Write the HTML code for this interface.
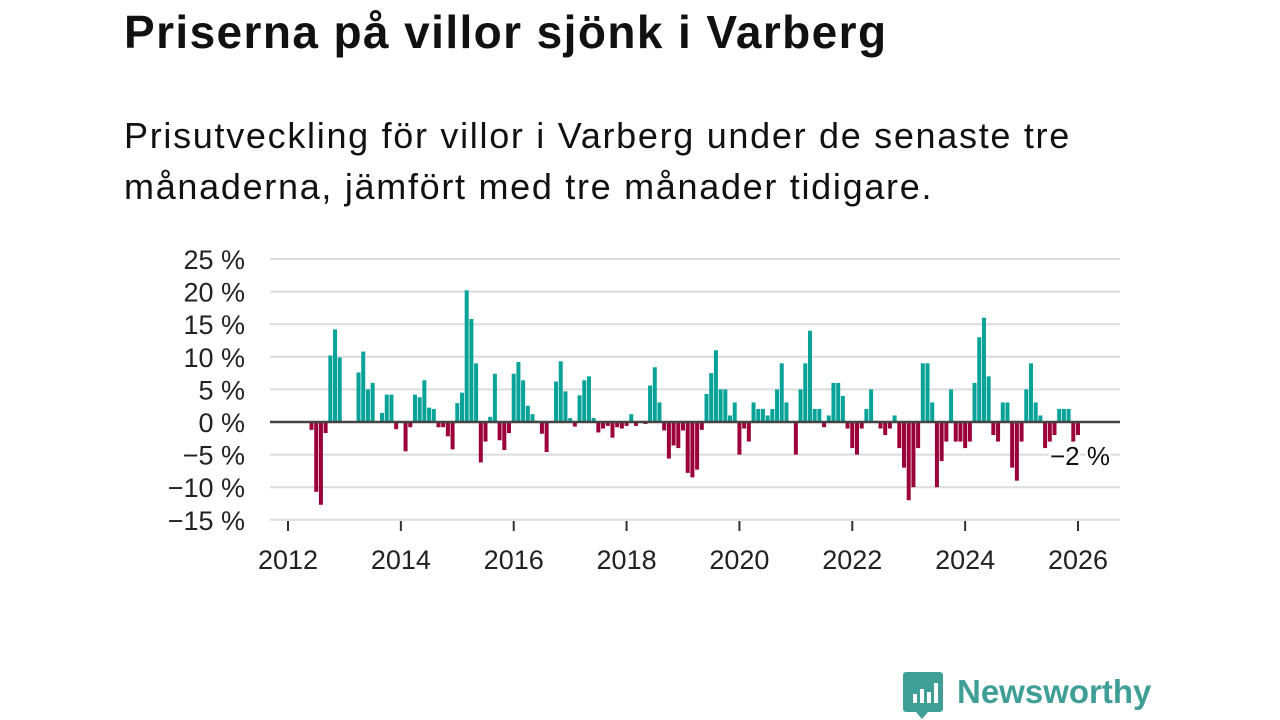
<!DOCTYPE html>
<html><head><meta charset="utf-8"><style>
body{margin:0;width:1280px;height:720px;background:#fff;overflow:hidden;font-family:"Liberation Sans","DejaVu Sans",sans-serif;color:#111}
#title{position:absolute;left:124px;top:5px;font-size:46px;font-weight:bold;margin:0;letter-spacing:1.4px;white-space:nowrap}
#sub{position:absolute;left:124px;top:110px;font-size:36px;line-height:51px;margin:0;width:1100px;letter-spacing:1.7px;white-space:nowrap}
svg{position:absolute;left:0;top:0}
</style></head><body>
<h1 id="title">Priserna på villor sjönk i Varberg</h1>
<p id="sub">Prisutveckling för villor i Varberg under de senaste tre<br>månaderna, jämfört med tre månader tidigare.</p>
<svg id="chart" width="1280" height="720"></svg>
<script>
const startYear = 2012;
const startMonth = 5; // months offset from Jan 2012 (June 2012)
const values = [-1.2,-10.7,-12.7,-1.7,10.2,14.2,9.9,0,0,0,7.6,10.8,5,6,0,1.4,4.2,4.2,-1.1,0,
-4.5,-0.8,4.2,3.8,6.4,2.2,2,-0.8,-0.8,-2.2,-4.2,2.9,4.5,20.2,15.8,9,-6.2,-3,0.8,7.4,
-2.8,-4.3,-1.7,7.4,9.2,6.4,2.5,1.2,0.2,-1.8,-4.6,0,6.2,9.3,4.7,0.6,-0.7,4.1,6.4,7,
0.6,-1.6,-1,-0.6,-2.4,-0.8,-1,-0.6,1.2,-0.6,0,-0.3,5.6,8.4,3,-1.3,-5.6,-3.6,-4,-1.3,
-7.8,-8.5,-7.3,-1.2,4.3,7.5,11,5,5,1,3,-5,-1,-3,3,2,2,1,2,5,
9,3,0,-5,5,9,14,2,2,-0.8,1,6,6,4,-1,-4,-5,-1,2,5,
0,-1,-2,-1,1,-4,-7,-12,-10,-4,9,9,3,-10,-6,-3,5,-3,-3,-4,
-3,6,13,16,7,-2,-3,3,3,-7,-9,-3,5,9,3,1,-4,-3,-2,2,
2,2,-3,-2];
const yTicks = [25,20,15,10,5,0,-5,-10,-15];
const xTicks = [2012,2014,2016,2018,2020,2022,2024,2026];
const lastLabel = "−2 %";

const NS="http://www.w3.org/2000/svg";
const svg=document.getElementById('chart');
const xs = y => 288 + (y-2012)*(1078-288)/14;
const ys = v => 422 - v*(163/25);
function mk(t,a){const e=document.createElementNS(NS,t);for(const k in a)e.setAttribute(k,a[k]);svg.appendChild(e);return e;}
yTicks.forEach(t=>{
  const g=mk('line',{x1:270,x2:1120,y1:ys(t),y2:ys(t),stroke:'#dcdcdc','stroke-width':2});
  
  
  const l=mk('text',{x:245,y:ys(t)+10,'text-anchor':'end','font-size':27,fill:'#222'});
  l.textContent=(t<0?'−'+(-t):t)+' %';
  
  
});
values.forEach((v,i)=>{
  const m=startMonth+i;
  const cx=xs(startYear+m/12);
  const y0=ys(0),y1=ys(v);
  const r=mk('rect',{x:cx-2,width:4,y:Math.min(y0,y1),height:Math.abs(y1-y0),fill:v>=0?'#08a398':'#9b0038'});
  
  
});
const z=mk('line',{x1:270,x2:1120,y1:ys(0),y2:ys(0),stroke:'#444','stroke-width':2.5});


xTicks.forEach(t=>{
  const tk=mk('line',{x1:xs(t),x2:xs(t),y1:521,y2:531,stroke:'#333','stroke-width':2});
  
  
  const l=mk('text',{x:xs(t),y:569,'text-anchor':'middle','font-size':27,fill:'#222'});
  l.textContent=t;
  
  
});
const lastV=values[values.length-1];
const ll=mk('text',{x:1110,y:ys(lastV)+30,'text-anchor':'end','font-size':26,fill:'#111',stroke:'#fff','stroke-width':5,'paint-order':'stroke'});
ll.textContent=lastLabel;


</script>
<svg width="1280" height="720" style="pointer-events:none">
  <path d="M906 672 h34 a3 3 0 0 1 3 3 v34 a3 3 0 0 1 -3 3 h-12 l-6 7 l-6 -7 h-10 a3 3 0 0 1 -3 -3 v-34 a3 3 0 0 1 3 -3z" fill="#3f9e96"/>
  <rect x="913" y="694" width="4" height="9" fill="#fff"/><rect x="920" y="689" width="4" height="14" fill="#fff"/><rect x="927" y="692" width="4" height="11" fill="#fff"/><rect x="934" y="683" width="4" height="20" fill="#fff"/>
  <text x="957" y="703" font-size="33" font-weight="bold" fill="#3f9e96" font-family="Liberation Sans, sans-serif">Newsworthy</text>
</svg>
</body></html>
